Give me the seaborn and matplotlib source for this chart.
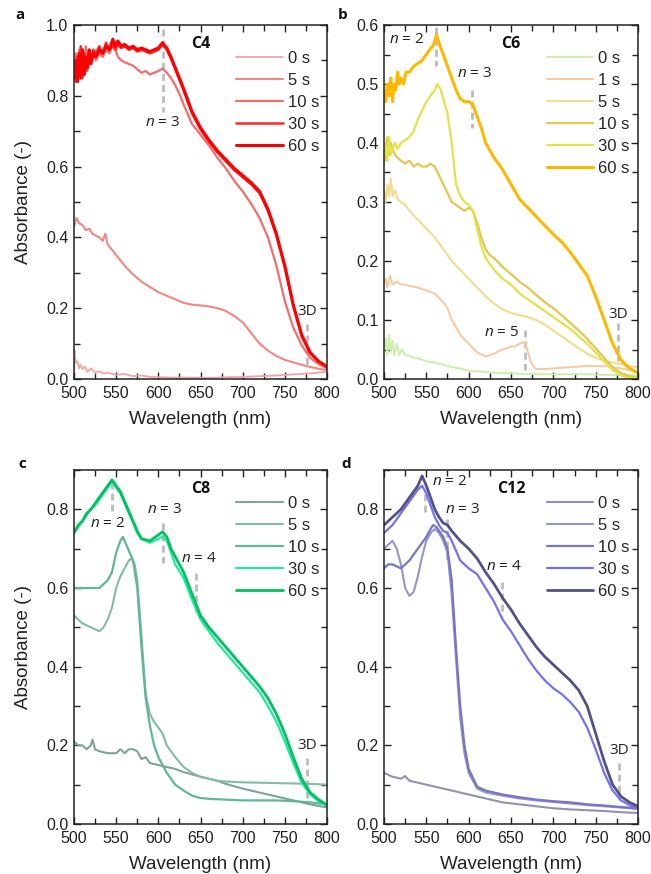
import matplotlib
matplotlib.use("Agg")
import matplotlib.pyplot as plt
from matplotlib.ticker import MultipleLocator, FormatStrFormatter
import seaborn as sns

sns.set_theme(style="ticks")
plt.rcParams["font.family"] = ["Liberation Sans", "DejaVu Sans"]
plt.rcParams["mathtext.fontset"] = "custom"
plt.rcParams["mathtext.rm"] = "Open Sans"
plt.rcParams["mathtext.it"] = "Open Sans:italic"

ANNOT_FONT = ["Open Sans", "DejaVu Sans"]
AXIS_FONT = ["Liberation Sans", "DejaVu Sans"]

# ---------------- C4 ----------------
a_wl_0s = [500, 501, 502, 504, 506, 508, 510, 513, 516, 520, 525, 530, 535, 540, 550, 560, 570,
           580, 590, 600, 620, 640, 660, 680, 700, 720, 740, 760, 780, 800]
a_0s = [0.02, 0.08, 0.045, 0.05, 0.03, 0.04, 0.028, 0.035, 0.02, 0.03, 0.018, 0.022, 0.015, 0.018,
        0.012, 0.014, 0.008, 0.01, 0.006, 0.005, 0.004, 0.004, 0.003, 0.005, 0.006, 0.008, 0.01,
        0.013, 0.016, 0.02]
a_wl_5s = [500, 503, 506, 510, 514, 518, 522, 526, 530, 534, 537, 540, 545, 550, 555, 560, 570, 580,
           590, 600, 610, 620, 630, 640, 650, 660, 670, 680, 690, 700, 710, 720, 730, 740, 750, 760,
           770, 780, 790, 800]
a_5s = [0.43, 0.455, 0.44, 0.435, 0.42, 0.425, 0.41, 0.405, 0.40, 0.39, 0.41, 0.38, 0.365, 0.35,
        0.335, 0.32, 0.295, 0.275, 0.26, 0.245, 0.235, 0.225, 0.215, 0.21, 0.208, 0.205, 0.20,
        0.192, 0.178, 0.16, 0.13, 0.10, 0.08, 0.065, 0.054, 0.047, 0.04, 0.034, 0.029, 0.025]
a_wl_10s = [500, 502, 504, 506, 508, 510, 512, 514, 516, 518, 520, 523, 526, 530, 534, 538, 542,
            546, 549, 552, 556, 560, 565, 570, 575, 580, 585, 590, 595, 600, 605, 610, 615, 620,
            626, 630, 640, 650, 660, 670, 680, 690, 700, 710, 720, 730, 740, 750, 760, 770, 780,
            790, 800]
a_10s = [0.86, 0.92, 0.87, 0.93, 0.86, 0.90, 0.88, 0.94, 0.87, 0.92, 0.89, 0.93, 0.90, 0.92, 0.91,
         0.93, 0.92, 0.95, 0.93, 0.91, 0.90, 0.895, 0.89, 0.885, 0.875, 0.865, 0.87, 0.86, 0.865,
         0.87, 0.877, 0.865, 0.85, 0.83, 0.80, 0.775, 0.72, 0.69, 0.66, 0.625, 0.595, 0.56, 0.53,
         0.495, 0.455, 0.40, 0.32, 0.22, 0.145, 0.095, 0.06, 0.042, 0.03]
a_wl_30s = [500, 502, 504, 506, 508, 510, 512, 514, 516, 518, 520, 523, 526, 530, 534, 538, 542,
            546, 549, 552, 556, 560, 565, 570, 575, 580, 585, 590, 595, 600, 605, 610, 615, 620,
            625, 630, 640, 650, 660, 670, 680, 690, 700, 710, 720, 730, 740, 750, 760, 770, 780,
            790, 800]
a_30s = [0.88, 0.84, 0.91, 0.86, 0.94, 0.85, 0.92, 0.87, 0.90, 0.92, 0.90, 0.93, 0.92, 0.94, 0.92,
         0.95, 0.93, 0.94, 0.93, 0.945, 0.935, 0.94, 0.93, 0.935, 0.925, 0.93, 0.925, 0.92, 0.925,
         0.93, 0.945, 0.93, 0.905, 0.875, 0.845, 0.815, 0.75, 0.705, 0.67, 0.64, 0.615, 0.59, 0.57,
         0.55, 0.525, 0.475, 0.405, 0.315, 0.205, 0.12, 0.073, 0.049, 0.034]
a_wl_60s = a_wl_30s
a_60s = [0.85, 0.90, 0.84, 0.92, 0.85, 0.93, 0.86, 0.91, 0.88, 0.93, 0.89, 0.92, 0.91, 0.93, 0.92,
         0.94, 0.93, 0.96, 0.94, 0.955, 0.94, 0.945, 0.935, 0.94, 0.93, 0.935, 0.93, 0.925, 0.93,
         0.935, 0.95, 0.935, 0.91, 0.88, 0.85, 0.82, 0.755, 0.71, 0.675, 0.645, 0.62, 0.595, 0.575,
         0.555, 0.53, 0.48, 0.41, 0.32, 0.21, 0.125, 0.075, 0.05, 0.035]

# ---------------- C6 ----------------
b_wl_0s = [500, 502, 504, 506, 508, 510, 512, 515, 518, 521, 525, 530, 535, 540, 550, 560, 570,
           580, 590, 600, 620, 640, 660, 680, 700, 720, 740, 760, 780, 800]
b_0s = [0.05, 0.07, 0.04, 0.075, 0.045, 0.065, 0.04, 0.06, 0.04, 0.05, 0.04, 0.04, 0.035, 0.035,
        0.03, 0.028, 0.024, 0.02, 0.018, 0.014, 0.012, 0.01, 0.009, 0.008, 0.008, 0.008, 0.008,
        0.007, 0.007, 0.006]
b_wl_1s = [500, 502, 504, 507, 510, 515, 520, 525, 530, 540, 550, 560, 570, 575, 580, 585, 590,
           600, 610, 620, 625, 630, 640, 650, 655, 660, 664, 667, 670, 673, 677, 680, 690, 700,
           720, 740, 760, 780, 800]
b_1s = [0.16, 0.17, 0.155, 0.175, 0.16, 0.165, 0.16, 0.16, 0.158, 0.155, 0.15, 0.145, 0.13, 0.12,
        0.10, 0.088, 0.075, 0.06, 0.045, 0.038, 0.04, 0.043, 0.05, 0.055, 0.055, 0.06, 0.062,
        0.06, 0.045, 0.03, 0.02, 0.017, 0.017, 0.018, 0.02, 0.022, 0.022, 0.018, 0.012]
b_wl_5s = [500, 502, 504, 506, 508, 510, 513, 516, 520, 525, 530, 540, 550, 560, 570, 580, 590,
           600, 610, 620, 630, 640, 650, 660, 670, 680, 690, 700, 710, 720, 730, 740, 750, 760,
           770, 780, 790, 800]
b_5s = [0.32, 0.30, 0.33, 0.31, 0.34, 0.31, 0.32, 0.305, 0.30, 0.295, 0.285, 0.27, 0.255, 0.24,
        0.22, 0.20, 0.185, 0.17, 0.155, 0.14, 0.128, 0.118, 0.112, 0.108, 0.105, 0.10, 0.092,
        0.082, 0.072, 0.062, 0.052, 0.043, 0.036, 0.031, 0.028, 0.025, 0.022, 0.02]
b_wl_10s = [500, 502, 504, 506, 508, 510, 513, 516, 520, 525, 530, 535, 540, 545, 550, 555, 560,
            565, 570, 575, 580, 585, 590, 595, 600, 605, 610, 615, 620, 625, 630, 640, 650, 660,
            670, 680, 690, 700, 710, 720, 730, 740, 750, 760, 770, 780, 790, 800]
b_10s = [0.40, 0.37, 0.41, 0.38, 0.40, 0.39, 0.38, 0.375, 0.37, 0.365, 0.37, 0.36, 0.365, 0.36,
         0.36, 0.365, 0.36, 0.345, 0.33, 0.315, 0.30, 0.295, 0.29, 0.285, 0.29, 0.285, 0.265,
         0.24, 0.22, 0.21, 0.205, 0.19, 0.178, 0.165, 0.155, 0.142, 0.13, 0.12, 0.108, 0.095,
         0.082, 0.068, 0.052, 0.036, 0.02, 0.01, 0.005, 0.002]
b_wl_30s = [500, 502, 504, 506, 508, 510, 513, 516, 520, 525, 530, 535, 540, 545, 550, 555, 560,
            563, 567, 570, 575, 580, 585, 590, 595, 600, 605, 610, 615, 620, 630, 640, 650, 660,
            670, 680, 690, 700, 710, 720, 730, 740, 750, 760, 770, 780, 790, 800]
b_30s = [0.38, 0.40, 0.37, 0.41, 0.38, 0.39, 0.40, 0.39, 0.40, 0.405, 0.41, 0.42, 0.44, 0.455,
         0.47, 0.48, 0.49, 0.50, 0.49, 0.475, 0.45, 0.40, 0.33, 0.31, 0.30, 0.295, 0.285, 0.255,
         0.225, 0.205, 0.185, 0.17, 0.16, 0.145, 0.135, 0.125, 0.115, 0.105, 0.095, 0.085, 0.072,
         0.06, 0.045, 0.03, 0.015, 0.006, 0.002, 0.0]
b_wl_60s = [500, 502, 504, 506, 508, 510, 512, 514, 516, 518, 520, 523, 526, 530, 535, 540, 545,
            550, 555, 558, 562, 566, 570, 575, 580, 585, 590, 595, 600, 605, 610, 615, 620, 630,
            640, 650, 660, 670, 680, 690, 700, 710, 720, 730, 740, 750, 760, 770, 780, 790, 800]
b_60s = [0.49, 0.47, 0.50, 0.48, 0.51, 0.47, 0.50, 0.49, 0.52, 0.50, 0.51, 0.50, 0.52, 0.52, 0.53,
         0.535, 0.54, 0.55, 0.56, 0.565, 0.583, 0.565, 0.55, 0.53, 0.51, 0.49, 0.475, 0.47, 0.47,
         0.465, 0.445, 0.425, 0.40, 0.375, 0.355, 0.33, 0.305, 0.29, 0.275, 0.26, 0.245, 0.232,
         0.215, 0.195, 0.175, 0.14, 0.10, 0.06, 0.032, 0.018, 0.01]

# ---------------- C8 ----------------
c_wl_0s = [500, 505, 510, 515, 520, 522, 525, 530, 540, 550, 555, 560, 565, 570, 575, 580, 585,
           590, 600, 610, 620, 630, 640, 650, 660, 670, 680, 690, 700, 710, 720, 740, 760, 780, 800]
c_0s = [0.21, 0.20, 0.20, 0.19, 0.20, 0.215, 0.19, 0.185, 0.18, 0.18, 0.19, 0.18, 0.19, 0.19,
        0.185, 0.165, 0.17, 0.155, 0.15, 0.145, 0.14, 0.132, 0.126, 0.12, 0.115, 0.11, 0.102,
        0.096, 0.09, 0.085, 0.08, 0.07, 0.06, 0.05, 0.042]
c_wl_5s = [500, 505, 510, 520, 530, 535, 540, 545, 550, 555, 560, 565, 568, 572, 575, 580, 585,
           590, 595, 600, 605, 610, 620, 630, 640, 650, 660, 670, 680, 700, 720, 740, 760, 780, 800]
c_5s = [0.53, 0.52, 0.51, 0.50, 0.49, 0.50, 0.52, 0.55, 0.60, 0.63, 0.65, 0.67, 0.675, 0.66,
        0.62, 0.48, 0.33, 0.28, 0.26, 0.245, 0.23, 0.20, 0.17, 0.145, 0.13, 0.12, 0.115, 0.11,
        0.108, 0.106, 0.105, 0.104, 0.103, 0.102, 0.10]
c_wl_10s = [500, 510, 520, 530, 540, 545, 550, 555, 558, 562, 570, 575, 580, 585, 590, 595, 600,
            610, 620, 630, 640, 650, 660, 680, 700, 720, 740, 760, 780, 800]
c_10s = [0.60, 0.60, 0.60, 0.60, 0.62, 0.64, 0.69, 0.72, 0.73, 0.71, 0.67, 0.60, 0.45, 0.32, 0.25,
         0.20, 0.17, 0.13, 0.10, 0.085, 0.072, 0.066, 0.064, 0.062, 0.06, 0.06, 0.06, 0.058,
         0.055, 0.05]
c_wl_30s = [500, 505, 510, 515, 520, 525, 530, 535, 540, 545, 550, 555, 560, 565, 570, 575, 580,
            590, 600, 605, 610, 615, 620, 630, 640, 650, 660, 670, 680, 690, 700, 710, 720, 730,
            740, 750, 760, 770, 780, 790, 800]
c_30s = [0.74, 0.755, 0.77, 0.785, 0.80, 0.81, 0.825, 0.84, 0.855, 0.87, 0.855, 0.84, 0.815, 0.79,
         0.765, 0.74, 0.725, 0.715, 0.725, 0.73, 0.72, 0.69, 0.66, 0.625, 0.57, 0.52, 0.49, 0.46,
         0.435, 0.41, 0.385, 0.36, 0.335, 0.30, 0.26, 0.21, 0.155, 0.105, 0.075, 0.058, 0.046]
c_wl_60s = c_wl_30s
c_60s = [0.74, 0.76, 0.77, 0.79, 0.80, 0.815, 0.83, 0.845, 0.86, 0.875, 0.86, 0.845, 0.82, 0.795,
         0.77, 0.745, 0.725, 0.72, 0.735, 0.743, 0.73, 0.70, 0.68, 0.64, 0.585, 0.53, 0.50, 0.475,
         0.45, 0.425, 0.40, 0.375, 0.35, 0.32, 0.28, 0.23, 0.17, 0.115, 0.08, 0.062, 0.048]

# ---------------- C12 ----------------
d_wl_0s = [500, 505, 510, 515, 520, 525, 530, 540, 550, 560, 570, 580, 590, 600, 620, 640, 660,
           680, 700, 720, 740, 760, 780, 800]
d_0s = [0.13, 0.125, 0.12, 0.118, 0.115, 0.122, 0.11, 0.105, 0.10, 0.095, 0.09, 0.085, 0.08,
        0.075, 0.065, 0.055, 0.05, 0.045, 0.04, 0.037, 0.035, 0.033, 0.03, 0.028]
d_wl_5s = [500, 505, 510, 515, 520, 525, 530, 535, 540, 545, 550, 555, 560, 565, 570, 575, 580,
           585, 590, 595, 600, 610, 620, 640, 660, 680, 700, 720, 740, 760, 780, 800]
d_5s = [0.70, 0.71, 0.72, 0.70, 0.66, 0.60, 0.58, 0.59, 0.63, 0.68, 0.72, 0.74, 0.75, 0.74, 0.72,
        0.69, 0.58, 0.42, 0.27, 0.18, 0.13, 0.09, 0.08, 0.072, 0.065, 0.06, 0.056, 0.052, 0.048,
        0.045, 0.042, 0.038]
d_wl_10s = [500, 505, 510, 520, 525, 530, 540, 550, 555, 558, 562, 570, 575, 580, 585, 590, 595,
            600, 610, 620, 640, 660, 680, 700, 720, 740, 760, 780, 800]
d_10s = [0.65, 0.66, 0.66, 0.65, 0.66, 0.67, 0.70, 0.73, 0.75, 0.76, 0.755, 0.73, 0.70, 0.62, 0.45,
         0.30, 0.20, 0.14, 0.095, 0.085, 0.075, 0.068, 0.062, 0.058, 0.055, 0.05, 0.047, 0.043,
         0.04]
d_wl_30s = [500, 510, 520, 530, 540, 545, 550, 555, 560, 565, 570, 575, 580, 590, 600, 610, 620,
            630, 640, 650, 660, 670, 680, 690, 700, 710, 720, 730, 740, 750, 760, 770, 780, 790, 800]
d_30s = [0.74, 0.76, 0.79, 0.82, 0.85, 0.86, 0.84, 0.81, 0.78, 0.76, 0.745, 0.74, 0.72, 0.67,
         0.65, 0.635, 0.60, 0.565, 0.52, 0.49, 0.455, 0.42, 0.39, 0.365, 0.345, 0.33, 0.31, 0.285,
         0.245, 0.19, 0.13, 0.085, 0.06, 0.048, 0.04]
d_wl_60s = d_wl_30s
d_60s = [0.76, 0.78, 0.80, 0.83, 0.86, 0.885, 0.86, 0.83, 0.80, 0.78, 0.765, 0.76, 0.745, 0.72,
         0.70, 0.675, 0.64, 0.61, 0.575, 0.545, 0.51, 0.48, 0.45, 0.425, 0.405, 0.385, 0.365,
         0.34, 0.30, 0.23, 0.16, 0.10, 0.07, 0.055, 0.045]

PANELS = [
    dict(tag="a", name="C4", ymax=1.0, ymajor=0.2, yminor=0.1, ylabel=True,
         series=[("0 s", a_wl_0s, a_0s, "#f7a3a3", 1.3),
                 ("5 s", a_wl_5s, a_5s, "#f58484", 1.5),
                 ("10 s", a_wl_10s, a_10s, "#f46c6c", 1.6),
                 ("30 s", a_wl_30s, a_30s, "#ff2626", 1.8),
                 ("60 s", a_wl_60s, a_60s, "#ff0000", 2.2)],
         marks=[(605, 0.99, 0.755, r"$n$ = 3", 605, 0.725),
                (776, 0.155, 0.03, "3D", 777, 0.19)]),
    dict(tag="b", name="C6", ymax=0.6, ymajor=0.1, yminor=0.05, ylabel=False,
         series=[("0 s", b_wl_0s, b_0s, "#c9eea6", 1.3),
                 ("1 s", b_wl_1s, b_1s, "#fbc99d", 1.4),
                 ("5 s", b_wl_5s, b_5s, "#f2dc8e", 1.5),
                 ("10 s", b_wl_10s, b_10s, "#e6c64c", 1.6),
                 ("30 s", b_wl_30s, b_30s, "#e2e24a", 1.6),
                 ("60 s", b_wl_60s, b_60s, "#ffb700", 2.2)],
         marks=[(562, 0.597, 0.53, r"$n$ = 2", 527, 0.575),
                (604, 0.49, 0.425, r"$n$ = 3", 607, 0.518),
                (666, 0.083, 0.015, r"$n$ = 5", 639, 0.079),
                (776, 0.095, 0.03, "3D", 777, 0.11)]),
    dict(tag="c", name="C8", ymax=0.9, ymajor=0.2, yminor=0.1, ylabel=True,
         series=[("0 s", c_wl_0s, c_0s, "#7fa397", 1.5),
                 ("5 s", c_wl_5s, c_5s, "#82bca6", 1.5),
                 ("10 s", c_wl_10s, c_10s, "#5db893", 1.6),
                 ("30 s", c_wl_30s, c_30s, "#20eaa0", 1.6),
                 ("60 s", c_wl_60s, c_60s, "#00c25e", 2.0)],
         marks=[(545, 0.87, 0.795, r"$n$ = 2", 540, 0.765),
                (605, 0.765, 0.663, r"$n$ = 3", 608, 0.80),
                (645, 0.637, 0.54, r"$n$ = 4", 648, 0.675),
                (776, 0.167, 0.065, "3D", 776, 0.20)]),
    dict(tag="d", name="C12", ymax=0.9, ymajor=0.2, yminor=0.1, ylabel=False,
         series=[("0 s", d_wl_0s, d_0s, "#9191b0", 1.5),
                 ("5 s", d_wl_5s, d_5s, "#9595c6", 1.5),
                 ("10 s", d_wl_10s, d_10s, "#7575c9", 1.6),
                 ("30 s", d_wl_30s, d_30s, "#7272f0", 1.6),
                 ("60 s", d_wl_60s, d_60s, "#525289", 2.0)],
         marks=[(548, 0.84, 0.789, r"$n$ = 2", 578, 0.87),
                (575, 0.776, 0.67, r"$n$ = 3", 593, 0.80),
                (639, 0.616, 0.53, r"$n$ = 4", 642, 0.654),
                (777, 0.154, 0.06, "3D", 778, 0.188)]),
]

W, H = 651, 874
fig = plt.figure(figsize=(W / 100, H / 100), dpi=100)
fig.patch.set_facecolor("white")

boxes = {"a": (74, 327, 25, 379), "b": (384, 638, 25, 379),
         "c": (74, 327, 470, 824), "d": (384, 638, 470, 824)}
letters = {"a": (20, 15), "b": (343, 15), "c": (22, 464), "d": (346, 464)}

for p in PANELS:
    x0, x1, y0, y1 = boxes[p["tag"]]
    ax = fig.add_axes([x0 / W, 1 - y1 / H, (x1 - x0) / W, (y1 - y0) / H])
    ax.set_facecolor("white")
    for lbl, wl, val, col, lw in p["series"]:
        sns.lineplot(x=wl, y=val, ax=ax, color=col, linewidth=lw, label=lbl, sort=False)
    for xm, ytop, ybot, txt, tx, ty in p["marks"]:
        ax.plot([xm, xm], [ytop, ybot], color="#bcbcbc", lw=2.0, ls=(0, (2.5, 1.5)), zorder=1)
        ax.text(tx, ty, txt, ha="center", va="center", fontsize=11, color="#222222",
                family=ANNOT_FONT)
    ax.set_xlim(500, 800)
    ax.set_ylim(0, p["ymax"])
    ax.xaxis.set_major_locator(MultipleLocator(50))
    ax.xaxis.set_minor_locator(MultipleLocator(25))
    ax.yaxis.set_major_locator(MultipleLocator(p["ymajor"]))
    ax.yaxis.set_minor_locator(MultipleLocator(p["yminor"]))
    ax.yaxis.set_major_formatter(FormatStrFormatter("%.1f"))
    ax.tick_params(which="both", direction="in", top=True, right=True, color="#222222",
                   width=1.0, labelsize=11.5, labelcolor="#222222")
    ax.tick_params(axis="x", which="major", pad=5)
    ax.tick_params(axis="y", which="major", pad=4)
    ax.tick_params(which="major", length=5)
    ax.tick_params(which="minor", length=4)
    for s in ax.spines.values():
        s.set_color("#222222")
        s.set_linewidth(1.1)
    ax.set_xlabel("Wavelength (nm)", fontsize=13.5, family=AXIS_FONT, color="#222222",
                  labelpad=7)
    if p["ylabel"]:
        ax.set_ylabel("Absorbance (-)", fontsize=13.5, family=AXIS_FONT, color="#222222",
                      labelpad=10)
    else:
        ax.set_ylabel("")
    ax.text(0.5, 0.945, p["name"], transform=ax.transAxes, ha="center", va="center",
            fontsize=11.5, fontweight="bold", family=ANNOT_FONT, color="#111111")
    ax.legend(loc="upper left", bbox_to_anchor=(0.64, 0.926), frameon=False,
              fontsize=12, handlelength=2.8, handletextpad=0.3, labelspacing=0.42,
              borderaxespad=0, borderpad=0)
    lx, ly = letters[p["tag"]]
    fig.text(lx / W, 1 - ly / H, p["tag"], ha="center", va="center", fontsize=11,
             fontweight="bold", family=ANNOT_FONT, color="#111111")

fig.savefig("out.png", dpi=100, facecolor="white")
